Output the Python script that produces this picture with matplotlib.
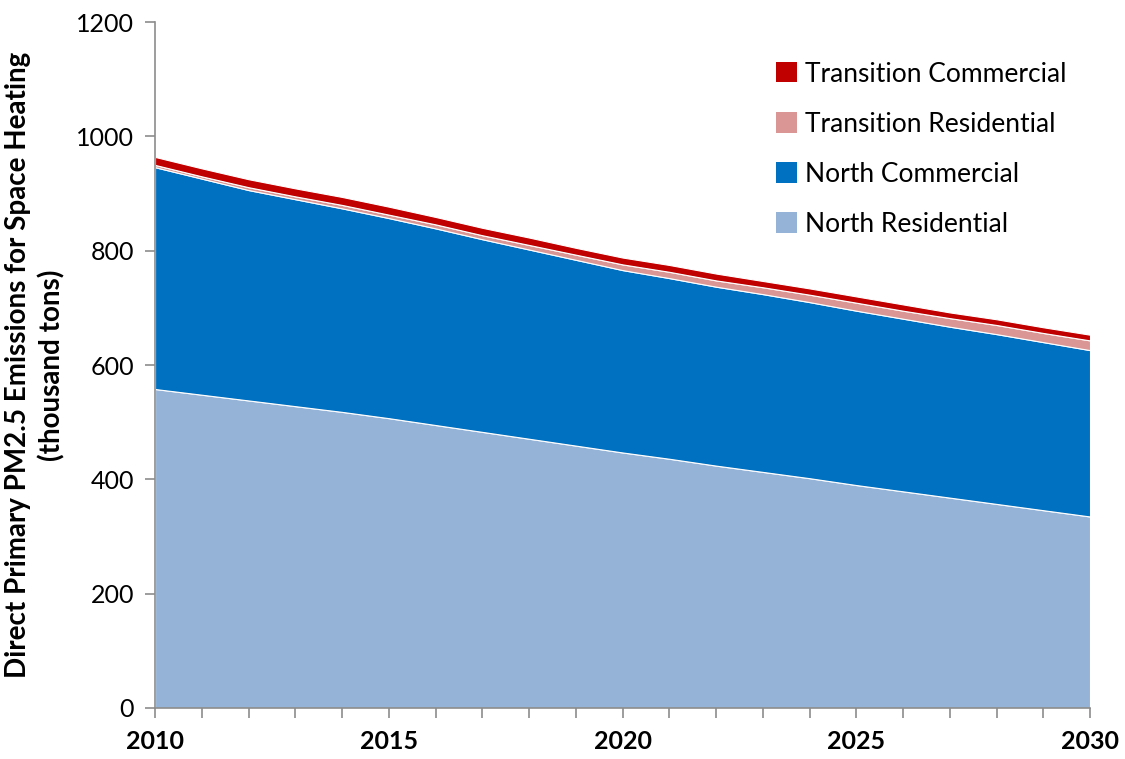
import numpy as np
import matplotlib.pyplot as plt
from matplotlib.patches import Patch

plt.rcParams['font.family'] = ['Lato', 'DejaVu Sans']

years = list(range(2010, 2031))

# thousand tons
north_res = [558, 548, 538, 528, 518, 507, 495, 483, 471, 459, 447,
             436, 424, 413, 402, 390, 379, 368, 357, 346, 335]
north_com = [388, 378, 368, 362, 356, 350, 344, 337, 331, 325, 319,
             316, 313, 311, 308, 305, 302, 299, 297, 294, 291]
trans_res = [4, 4, 5, 5, 6, 6, 7, 7, 8, 9, 10,
             11, 11, 12, 13, 14, 14, 15, 16, 16, 17]
trans_com = [14, 14, 14, 14, 14, 14, 13, 13, 13, 12, 12,
             12, 12, 11, 11, 11, 11, 10, 10, 10, 10]

labels = ['North Residential', 'North Commercial',
          'Transition Residential', 'Transition Commercial']
colors = ['#95b3d7', '#0070c0', '#d99694', '#c00000']

fig = plt.figure(figsize=(11.25, 7.59), dpi=100)
ax = fig.add_axes([0.1378, 0.0672, 0.8311, 0.9038])

ax.stackplot(years, north_res, north_com, trans_res, trans_com,
             colors=colors, edgecolor='white', linewidth=0.8)

ax.set_xlim(2010, 2030)
ax.set_ylim(0, 1200)
ax.set_xticks(range(2010, 2031, 5))
ax.set_xticks(years, minor=True)
ax.set_yticks(range(0, 1201, 200))

for s in ['top', 'right']:
    ax.spines[s].set_visible(False)
for s in ['left', 'bottom']:
    ax.spines[s].set_color('#8c8c8c')
    ax.spines[s].set_linewidth(1.2)

ax.tick_params(axis='both', which='both', direction='out', color='#8c8c8c',
               length=7, width=1.2)
ax.tick_params(axis='y', labelsize=18, pad=8)
ax.tick_params(axis='x', labelsize=18, pad=9)
for t in ax.get_xticklabels():
    t.set_fontweight('bold')

ax.set_ylabel('Direct Primary PM2.5 Emissions for Space Heating\n(thousand tons)',
              fontsize=20, fontweight='bold', labelpad=8, linespacing=1.3)

handles = [Patch(facecolor=c) for c in colors][::-1]
ax.legend(handles, labels[::-1], loc='upper right', bbox_to_anchor=(1.0, 0.977),
          frameon=False, fontsize=19, handlelength=0.8, handleheight=0.8,
          handletextpad=0.3, labelspacing=0.95)

fig.savefig('out.png')
